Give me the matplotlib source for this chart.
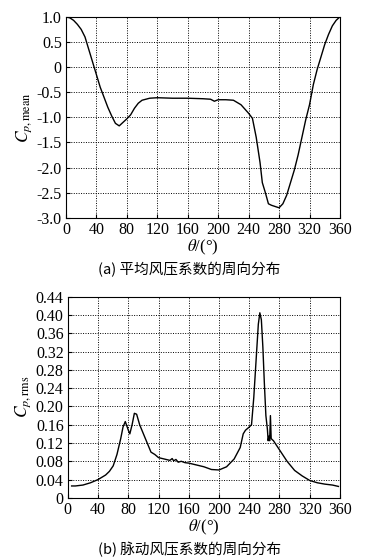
import numpy as np
import matplotlib
matplotlib.use("Agg")
import matplotlib.pyplot as plt

plt.rcParams['font.family'] = ['Liberation Serif', 'Noto Sans CJK SC', 'DejaVu Sans']
plt.rcParams['mathtext.fontset'] = 'stix'

# (a) mean pressure coefficient
theta_mean = [0, 5, 10, 15, 20, 25, 30, 35, 40, 45, 50, 55, 60, 65, 70, 75, 80, 85,
              90, 95, 100, 110, 120, 140, 160, 180, 190, 195, 200, 210, 220, 230,
              240, 245, 250, 255, 258, 262, 266, 270, 280, 285, 290, 295, 300, 305,
              310, 315, 320, 325, 330, 335, 340, 345, 350, 355, 360]
cp_mean = [1.0, 0.98, 0.93, 0.85, 0.75, 0.6, 0.35, 0.1, -0.15, -0.4, -0.6, -0.8,
           -0.97, -1.12, -1.17, -1.1, -1.03, -0.95, -0.82, -0.72, -0.66, -0.62,
           -0.61, -0.62, -0.62, -0.63, -0.64, -0.68, -0.65, -0.65, -0.66, -0.75,
           -0.92, -1.02, -1.4, -1.9, -2.3, -2.5, -2.72, -2.75, -2.8, -2.72, -2.55,
           -2.3, -2.05, -1.75, -1.4, -1.05, -0.75, -0.35, -0.05, 0.2, 0.45, 0.65,
           0.82, 0.93, 1.0]

# (b) fluctuating pressure coefficient
theta_rms = [5, 10, 20, 30, 40, 50, 55, 60, 65, 70, 73, 76, 80, 82, 85, 88, 91, 95,
             100, 105, 110, 115, 120, 125, 130, 135, 138, 140, 143, 146, 150, 155,
             160, 170, 180, 190, 200, 210, 220, 228, 232, 235, 240, 243, 246, 249,
             252, 254, 256, 258, 260, 262, 264, 265, 266, 267, 268, 269, 270, 272,
             280, 290, 300, 310, 320, 330, 340, 350, 358]
cp_rms = [0.026, 0.026, 0.028, 0.033, 0.040, 0.050, 0.058, 0.070, 0.095, 0.13,
          0.155, 0.167, 0.148, 0.140, 0.160, 0.185, 0.183, 0.160, 0.140, 0.120,
          0.100, 0.095, 0.088, 0.086, 0.084, 0.082, 0.086, 0.081, 0.084, 0.078,
          0.080, 0.077, 0.076, 0.072, 0.068, 0.062, 0.061, 0.068, 0.085, 0.110,
          0.140, 0.148, 0.155, 0.160, 0.220, 0.300, 0.380, 0.405, 0.390, 0.330,
          0.250, 0.180, 0.150, 0.125, 0.135, 0.125, 0.180, 0.130, 0.128, 0.125,
          0.105, 0.080, 0.060, 0.048, 0.038, 0.033, 0.030, 0.028, 0.025]

xticks = np.arange(0, 361, 40)

fig = plt.figure(figsize=(3.79, 5.60), dpi=100)
ax1 = fig.add_axes([0.174, 0.611, 0.723, 0.359])
ax2 = fig.add_axes([0.179, 0.111, 0.718, 0.359])


def style(ax):
    ax.set_xlim(0, 360)
    ax.set_xticks(xticks)
    ax.grid(True, color='black', linestyle=(0, (1, 1.5)), linewidth=0.7)
    ax.tick_params(direction='in', length=3, labelsize=11.5, colors='black', pad=3)
    for s in ax.spines.values():
        s.set_linewidth(0.8)
    ax.set_xlabel(r'$\theta$/(°)', fontsize=12, labelpad=0)


ax1.plot(theta_mean, cp_mean, color='black', linewidth=1.0)
style(ax1)
ax1.set_ylim(-3.0, 1.0)
ax1.set_yticks([1.0, 0.5, 0, -0.5, -1.0, -1.5, -2.0, -2.5, -3.0])
ax1.set_yticklabels(['1.0', '0.5', '0', '-0.5', '-1.0', '-1.5', '-2.0', '-2.5', '-3.0'])
ax1.set_ylabel(r'$C_{p,\mathrm{mean}}$', fontsize=12.5, labelpad=2)
fig.text(0.5, 0.519, '(a) 平均风压系数的周向分布', ha='center', va='center',
         fontsize=10.5, family=['Noto Sans CJK SC', 'DejaVu Sans'])

ax2.plot(theta_rms, cp_rms, color='black', linewidth=1.0)
style(ax2)
ax2.set_ylim(0, 0.44)
yt = [0, 0.04, 0.08, 0.12, 0.16, 0.20, 0.24, 0.28, 0.32, 0.36, 0.40, 0.44]
ax2.set_yticks(yt)
ax2.set_yticklabels(['0'] + [f'{v:.2f}' for v in yt[1:]])
ax2.set_ylabel(r'$C_{p,\mathrm{rms}}$', fontsize=12.5, labelpad=2)
fig.text(0.5, 0.019, '(b) 脉动风压系数的周向分布', ha='center', va='center',
         fontsize=10.5, family=['Noto Sans CJK SC', 'DejaVu Sans'])

fig.savefig('out.png', dpi=100)
